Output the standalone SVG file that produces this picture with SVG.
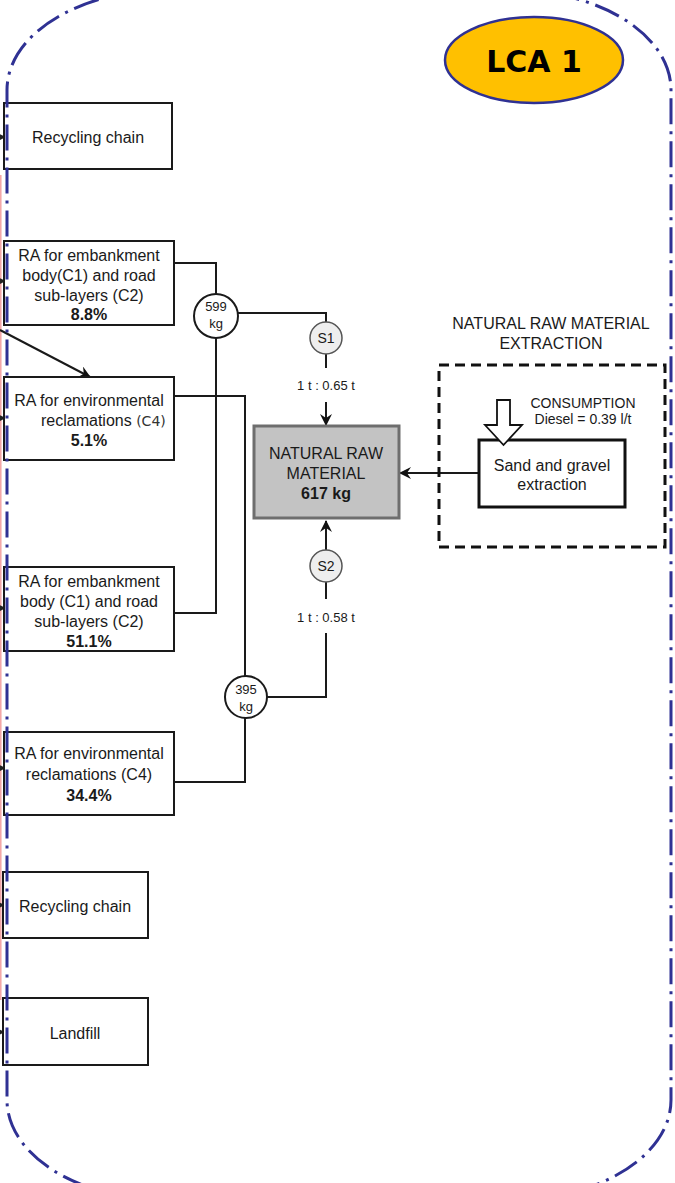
<svg xmlns="http://www.w3.org/2000/svg" width="675" height="1183" viewBox="0 0 675 1183">
<style>
.box{fill:#fff;stroke:#1a1a1a;stroke-width:2}
.t{font-family:"Liberation Sans",Arial,sans-serif;font-size:16px;fill:#1a1a1a;text-anchor:middle}
.b{font-weight:bold}
.s{font-size:14px}
.c{font-size:13px}
.ln{fill:none;stroke:#1a1a1a;stroke-width:2}
</style>
<defs>
<marker id="ah" viewBox="0 0 12 12" refX="11" refY="6" markerWidth="12" markerHeight="12" markerUnits="userSpaceOnUse" orient="auto">
<path d="M0,0 L12,6 L0,12 L4,6 Z" fill="#111"/>
</marker>
<marker id="ahs" viewBox="0 0 8 8" refX="7" refY="4" markerWidth="6" markerHeight="6" markerUnits="userSpaceOnUse" orient="auto">
<path d="M0,0 L8,4 L0,8 Z" fill="#222"/>
</marker>
</defs>
<rect width="675" height="1183" fill="#fff"/>
<line x1="0.8" y1="175" x2="0.8" y2="1000" stroke="#f3a3a3" stroke-width="1.5"/>

<g id="connectors">
<path class="ln" d="M174,263 H216 V294"/>
<path class="ln" d="M216,338 V613 H174"/>
<path class="ln" d="M238,313 H326 V322"/>
<path class="ln" d="M326,354 V368"/>
<path class="ln" d="M326,402 V425" marker-end="url(#ah)"/>
<path class="ln" d="M174,396 H245 V676"/>
<path class="ln" d="M174,782 H245 V718"/>
<path class="ln" d="M267,697 H326 V633"/>
<path class="ln" d="M326,599 V582"/>
<path class="ln" d="M326,550 V521" marker-end="url(#ah)"/>
<path class="ln" d="M479,473 H400" marker-end="url(#ah)"/>
<path class="ln" d="M0,330 L90,377" marker-end="url(#ah)"/>
<path class="ln" stroke-width="1.2" d="M0,137 H5" marker-end="url(#ahs)"/>
<path class="ln" stroke-width="1.2" d="M0,281 H5" marker-end="url(#ahs)"/>
<path class="ln" stroke-width="1.2" d="M0,418 H5" marker-end="url(#ahs)"/>
<path class="ln" stroke-width="1.2" d="M0,608 H5" marker-end="url(#ahs)"/>
<path class="ln" stroke-width="3" d="M0,768 H5" marker-end="url(#ahs)"/>
<path class="ln" stroke-width="1.2" d="M0,905 H4" marker-end="url(#ahs)"/>
<path class="ln" stroke-width="1.2" d="M0,1032 H4" marker-end="url(#ahs)"/>
</g>

<g id="recycling1">
<rect class="box" x="4" y="103" width="168" height="66"/>
<text class="t" x="88" y="143">Recycling chain</text>
</g>

<g id="ra1">
<rect class="box" x="4" y="241" width="170" height="84"/>
<text class="t" x="89" y="261">RA for embankment</text>
<text class="t" x="89" y="281">body(C1) and road</text>
<text class="t" x="89" y="301">sub-layers (C2)</text>
<text class="t b" x="89" y="320">8.8%</text>
</g>

<g id="ra2">
<rect class="box" x="4" y="377" width="170" height="83"/>
<text class="t" x="89" y="406">RA for environmental</text>
<text class="t" x="41" y="426" text-anchor="start" style="text-anchor:start">reclamations <tspan style="font-family:'DejaVu Sans',sans-serif;font-size:14px;fill:#333">(C4)</tspan></text>
<text class="t b" x="89" y="446">5.1%</text>
</g>

<g id="ra3">
<rect class="box" x="4" y="567" width="170" height="84"/>
<text class="t" x="89" y="587">RA for embankment</text>
<text class="t" x="89" y="607">body (C1) and road</text>
<text class="t" x="89" y="627">sub-layers (C2)</text>
<text class="t b" x="89" y="647">51.1%</text>
</g>

<g id="ra4">
<rect class="box" x="4" y="732" width="170" height="83"/>
<text class="t" x="89" y="759">RA for environmental</text>
<text class="t" x="89" y="780">reclamations (C4)</text>
<text class="t b" x="89" y="801">34.4%</text>
</g>

<g id="recycling2">
<rect class="box" x="3" y="872" width="145" height="66"/>
<text class="t" x="75" y="912">Recycling chain</text>
</g>

<g id="landfill">
<rect class="box" x="3" y="998" width="145" height="67"/>
<text class="t" x="75" y="1039">Landfill</text>
</g>

<g id="m599">
<circle cx="216" cy="316" r="22" fill="#fff" stroke="#1a1a1a" stroke-width="2"/>
<text class="t c" x="216" y="311">599</text>
<text class="t c" x="216" y="328">kg</text>
</g>

<g id="m395">
<circle cx="246" cy="697" r="21" fill="#fff" stroke="#1a1a1a" stroke-width="2"/>
<text class="t c" x="246" y="694">395</text>
<text class="t c" x="246" y="711">kg</text>
</g>

<g id="s1">
<circle cx="326" cy="338" r="16" fill="#eeeeee" stroke="#555" stroke-width="1.5"/>
<text class="t s" x="326" y="343">S1</text>
<text class="t c" x="326" y="390">1 t : 0.65 t</text>
</g>

<g id="s2">
<circle cx="326" cy="566" r="16" fill="#eeeeee" stroke="#555" stroke-width="1.5"/>
<text class="t s" x="326" y="571">S2</text>
<text class="t c" x="326" y="622">1 t : 0.58 t</text>
</g>

<g id="natural">
<rect x="254" y="426" width="145" height="92" fill="#c3c3c3" stroke="#6e6e6e" stroke-width="3"/>
<text class="t" x="326" y="459">NATURAL RAW</text>
<text class="t" x="326" y="479">MATERIAL</text>
<text class="t b" x="326" y="499">617 kg</text>
</g>

<g id="extraction">
<text class="t" x="551" y="329">NATURAL RAW MATERIAL</text>
<text class="t" x="551" y="349">EXTRACTION</text>
<rect x="439" y="365" width="226" height="182" fill="none" stroke="#111" stroke-width="3" stroke-dasharray="10 6"/>
<rect x="479" y="440" width="146" height="67" fill="#fff" stroke="#111" stroke-width="3"/>
<text class="t" x="552" y="471">Sand and gravel</text>
<text class="t" x="552" y="490">extraction</text>
<polygon points="497,400 510,400 510,425 522,425 503.5,445 485,425 497,425" fill="#fff" stroke="#111" stroke-width="1.8" stroke-linejoin="miter"/>
<text class="t s" x="583" y="408">CONSUMPTION</text>
<text class="t s" x="583" y="424">Diesel = 0.39 l/t</text>
</g>

<g id="lca">
<ellipse cx="534" cy="60" rx="89" ry="43" fill="#ffc000" stroke="#2f3193" stroke-width="2.5"/>
<text x="534" y="72" text-anchor="middle" style="font-family:'DejaVu Sans',Verdana,sans-serif;font-weight:bold;font-size:30px;fill:#000">LCA 1</text>
</g>

<g id="boundary">
<rect x="7" y="-10" width="664" height="1210" rx="160" ry="100" fill="none" stroke="#2f3193" stroke-width="3" stroke-dasharray="26 7 3 7"/>
</g>
</svg>
